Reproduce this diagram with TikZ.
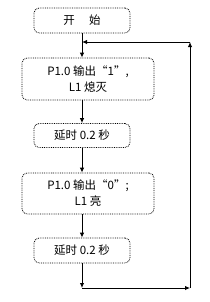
\documentclass[tikz,border=0pt]{standalone}
\usepackage{fontspec}
\setmainfont{Noto Sans CJK SC}
\usetikzlibrary{arrows.meta}
\tikzset{
  stepbox/.style={draw,densely dotted,line width=0.8bp,rounded corners=5bp,
    inner sep=0pt,align=center,font=\fontsize{11.5bp}{16bp}\selectfont},
  flow/.style={line width=0.9bp,-{Latex[length=5bp,width=4.5bp]}}
}

\begin{document}
\begin{tikzpicture}[x=1bp,y=-1bp]
  \useasboundingbox (0,0) rectangle (210,302);
  % boxes
  \node[stepbox,minimum width=96bp,minimum height=25bp] (start) at (82,20.5) {开\quad\ 始};
  \node[stepbox,minimum width=132bp,minimum height=42bp] (ledoff) at (88,79) {P1.0 输出“1”,\\L1 熄灭};
  \node[stepbox,minimum width=96bp,minimum height=24bp] (delayA) at (82,135.5) {延时 0.2 秒};
  \node[stepbox,minimum width=132bp,minimum height=41bp] (ledon) at (88,193.5) {P1.0 输出“0”;\\L1 亮};
  \node[stepbox,minimum width=96bp,minimum height=25bp] (delayB) at (82,250.5) {延时 0.2 秒};
  % loop corners
  \coordinate (join) at (82,42);
  \coordinate (down) at (82,288);
  \coordinate (rbot) at (190,288);
  \coordinate (rtop) at (190,42);
  % connectors
  \draw[flow] (start.south) -- (start.south |- ledoff.north);
  \draw[flow] (ledoff.south -| delayA.north) -- (delayA.north);
  \draw[flow] (delayA.south) -- (delayA.south |- ledon.north);
  \draw[flow] (ledon.south -| delayB.north) -- (delayB.north);
  \draw[flow] (delayB.south) -- (down);
  \draw[flow] (down) -- (rbot);
  \draw[flow] (rbot) -- (rtop);
  \draw[flow] (rtop) -- (join);
\end{tikzpicture}
\end{document}
